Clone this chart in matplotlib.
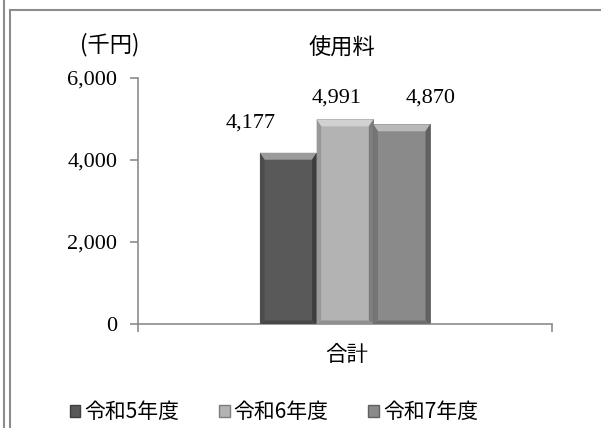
import matplotlib
matplotlib.use("Agg")
import matplotlib.pyplot as plt
from matplotlib.patches import Patch, Polygon
from matplotlib.lines import Line2D

# data
category = "合計"
years = ["令和5年度", "令和6年度", "令和7年度"]
values = [4177, 4991, 4870]
yticks = [0, 2000, 4000, 6000]
title = "使用料"
unit = "(千円)"

colors = ["#595959", "#b3b3b3", "#8a8a8a"]
jp = ["Noto Sans CJK JP", "DejaVu Sans"]
num = ["Liberation Serif", "Noto Sans CJK JP"]


def shade(c, f):
    r, g, b = matplotlib.colors.to_rgb(c)
    if f > 0:
        return (r + (1 - r) * f, g + (1 - g) * f, b + (1 - b) * f)
    return (r * (1 + f), g * (1 + f), b * (1 + f))


fig = plt.figure(figsize=(6.01, 4.28), dpi=100)
ax = fig.add_axes([138 / 601, 1 - 324 / 428, 414 / 601, 246 / 428])

width = 0.137
offsets = [-width, 0, width]
bars = []
for off, v, c in zip(offsets, values, colors):
    b = ax.bar(off, v, width=width, color=c, edgecolor=shade(c, -0.3), linewidth=0.6, zorder=2)
    bars.append(b[0])

# bevel look
dx, dy = 0.011, 170
for p, c in zip(bars, colors):
    x0, w, h = p.get_x(), p.get_width(), p.get_height()
    x1 = x0 + w
    top = Polygon([[x0, h], [x1, h], [x1 - dx, h - dy], [x0 + dx, h - dy]],
                  closed=True, facecolor=shade(c, 0.4), edgecolor="none", zorder=3)
    left = Polygon([[x0, 0], [x0, h], [x0 + dx, h - dy], [x0 + dx, dy * 0.5]],
                   closed=True, facecolor=shade(c, -0.15), edgecolor="none", zorder=3)
    right = Polygon([[x1, 0], [x1, h], [x1 - dx, h - dy], [x1 - dx, dy * 0.5]],
                    closed=True, facecolor=shade(c, -0.3), edgecolor="none", zorder=3)
    bottom = Polygon([[x0, 0], [x1, 0], [x1 - dx, dy * 0.5], [x0 + dx, dy * 0.5]],
                     closed=True, facecolor=shade(c, -0.2), edgecolor="none", zorder=3)
    for poly in (top, left, right, bottom):
        ax.add_patch(poly)

# value labels (positions as in the reference)
label_shift = [(-38, 30), (-8, 21), (29, 26)]
for p, v, (sx, sy) in zip(bars, values, label_shift):
    ax.annotate(f"{v:,}", (p.get_x() + p.get_width() / 2, p.get_height()),
                xytext=(sx, sy), textcoords="offset pixels",
                ha="center", va="center", fontsize=16, family=num)

ax.set_xlim(-0.5, 0.5)
ax.set_ylim(0, 6000)
ax.set_yticks(yticks)
ax.set_yticklabels([f"{t:,}" for t in yticks], family=num, fontsize=16)
ax.set_xticks([-0.5, 0.5])
ax.set_xticklabels(["", ""])
ax.tick_params(axis="both", direction="out", length=6, color="#8c8c8c", width=1.2)
ax.tick_params(axis="y", pad=9)
for s in ["top", "right"]:
    ax.spines[s].set_visible(False)
for s in ["left", "bottom"]:
    ax.spines[s].set_color("#8c8c8c")
    ax.spines[s].set_linewidth(1.2)

fig.text(347 / 601, 1 - 355 / 428, category, ha="center", va="center", fontsize=15.5, family=jp)
fig.text(342 / 601, 1 - 48 / 428, title, ha="center", va="center", fontsize=16, family=jp)
fig.text(110 / 601, 1 - 45 / 428, unit, ha="center", va="center", fontsize=16, family=jp)

handles = [Patch(facecolor=c, edgecolor=shade(c, -0.3)) for c in colors]
fig.legend(handles, years, loc="center", bbox_to_anchor=(274 / 601, 1 - 412 / 428),
           ncol=3, frameon=False, prop={"family": jp, "size": 15},
           handlelength=0.5, handleheight=0.5, handletextpad=0.2, columnspacing=1.9)

# outer frame lines
fig.add_artist(Line2D([3.5 / 601, 3.5 / 601], [0, 1], color="#8c8c8c", lw=1.5))
fig.add_artist(Line2D([9.5 / 601, 9.5 / 601], [0, 1 - 10 / 428], color="#8c8c8c", lw=1.5))
fig.add_artist(Line2D([9.5 / 601, 1], [1 - 10 / 428, 1 - 10 / 428], color="#8c8c8c", lw=1.5))

fig.savefig("out.png", dpi=100)
